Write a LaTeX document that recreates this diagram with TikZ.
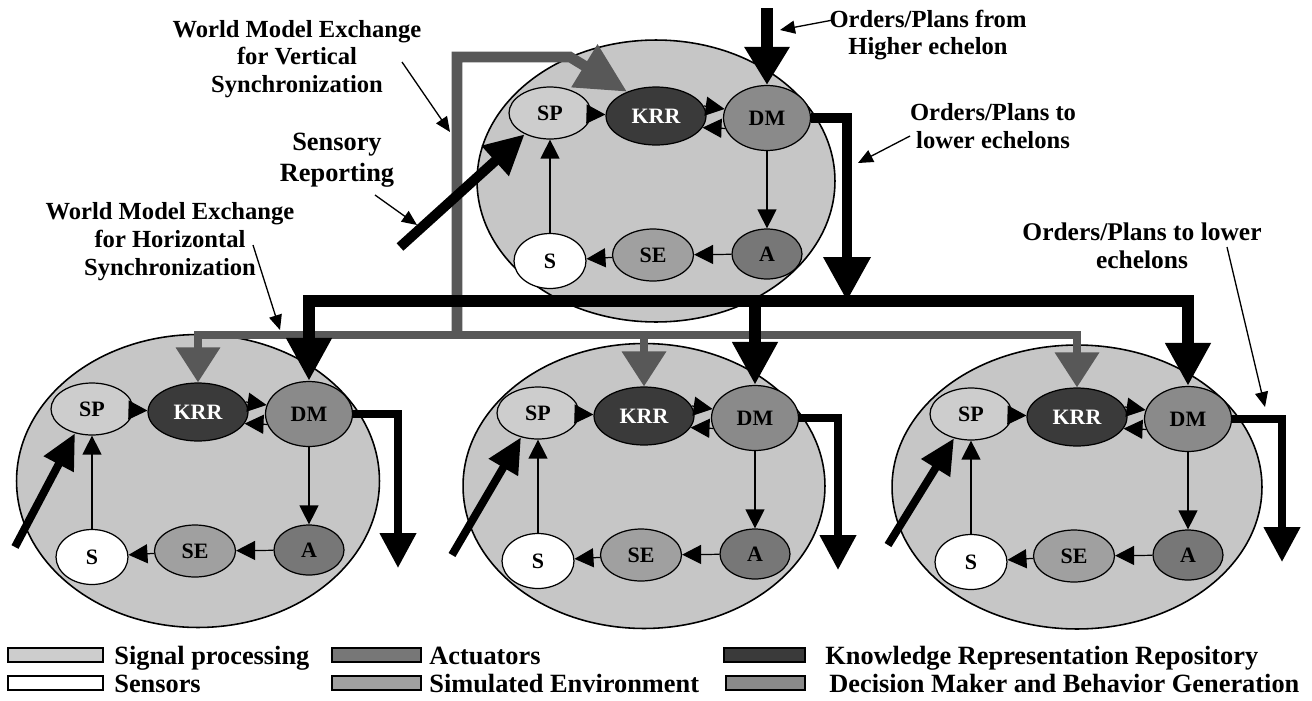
\documentclass[tikz,border=0pt]{standalone}
\usepackage{fontspec}
\setmainfont{Liberation Serif}
\usetikzlibrary{shapes.geometric,arrows.meta,calc}

\definecolor{bgell}{HTML}{C6C6C6}
\definecolor{spfill}{HTML}{CDCDCD}
\definecolor{krrfill}{HTML}{3A3A3A}
\definecolor{dmfill}{HTML}{8A8A8A}
\definecolor{afill}{HTML}{777777}
\definecolor{sefill}{HTML}{A0A0A0}
\definecolor{wmgray}{HTML}{585858}

\tikzset{
 bigell/.style={ellipse, draw=black, line width=0.9pt, fill=bgell, inner sep=0pt},
 innernd/.style={ellipse, draw=black, line width=0.7pt, inner sep=0pt, font=\bfseries\fontsize{12.5}{12.5}\selectfont},
 spnode/.style={innernd, fill=spfill, minimum width=1.64cm, minimum height=1.04cm},
 krrnode/.style={innernd, fill=krrfill, text=white, minimum width=2.0cm, minimum height=1.16cm},
 dmnode/.style={innernd, fill=dmfill, minimum width=1.74cm, minimum height=1.3cm},
 anode/.style={innernd, fill=afill, minimum width=1.4cm, minimum height=1.0cm},
 senode/.style={innernd, fill=sefill, minimum width=1.62cm, minimum height=1.04cm},
 snode/.style={innernd, fill=white, minimum width=1.44cm, minimum height=1.1cm},
 flow/.style={line width=0.7pt, -{Triangle[length=0.38cm,width=0.38cm]}},
 hiarrow/.style={line width=6.8pt, -{Triangle[length=0.76cm,width=0.86cm]}},
 topout/.style={line width=5.7pt, -{Triangle[length=0.88cm,width=0.9cm]}},
 busdrop/.style={line width=6.8pt, -{Triangle[length=0.86cm,width=0.86cm]}},
 unitout/.style={line width=4.3pt, -{Triangle[length=0.7cm,width=0.7cm]}},
 wmdrop/.style={draw=wmgray, line width=4pt, -{Triangle[length=0.7cm,width=0.86cm]}},
 wmvert/.style={draw=wmgray, line width=6pt, -{Triangle[length=1.0cm,width=0.95cm]}},
 sensortop/.style={line width=5.7pt, -{Triangle[length=0.8cm,width=0.76cm]}},
 sensorlow/.style={line width=4.5pt, -{Triangle[length=0.7cm,width=0.64cm]}},
 note/.style={line width=0.75pt, -{Triangle[length=0.3cm,width=0.26cm]}},
 lab/.style={align=center, inner sep=0pt, font=\bfseries\fontsize{14}{15.6}\selectfont},
 swatch/.style={draw=black, line width=0.8pt, minimum width=1.9cm, minimum height=0.28cm, inner sep=0pt},
 legtext/.style={anchor=base west, inner sep=0pt, font=\bfseries\fontsize{15}{15}\selectfont},
}

% #1 suffix, #2 x, #3 y, #4 width, #5 height, #6 ellipse y offset
\newcommand{\drawunit}[6]{%
 \begin{scope}[shift={(#2,#3)}]
  \node[bigell, minimum width=#4, minimum height=#5] (e#1) at (0,#6) {};
  \node[spnode] (sp#1) at (-106,-68) {SP};
  \node[krrnode] (krr#1) at (0,-65) {KRR};
  \node[dmnode] (dm#1) at (111,-63) {DM};
  \node[anode] (a#1) at (111,73) {A};
  \node[senode] (se#1) at (-3,74) {SE};
  \node[snode] (s#1) at (-106,80) {S};
 \end{scope}
 \draw[flow] (sp#1) -- (krr#1);
 \draw[flow] (krr#1.12) -- (dm#1.168);
 \draw[flow] (dm#1.194) -- (krr#1.-14);
 \draw[flow] (dm#1) -- (a#1);
 \draw[flow] (a#1) -- (se#1);
 \draw[flow] (se#1) -- (s#1);
 \draw[flow] (s#1) -- (sp#1);
}

\begin{document}
\begin{tikzpicture}[x=0.02cm, y=-0.02cm]
\fill[white] (0,0) rectangle (1312,700);
\useasboundingbox (0,0) rectangle (1312,700);

\drawunit{0}{656}{181}{7.16cm}{5.64cm}{0}
\drawunit{1}{198}{477}{7.26cm}{5.86cm}{4}
\drawunit{2}{644}{481}{7.24cm}{5.7cm}{5}
\drawunit{3}{1077}{482}{7.4cm}{5.68cm}{5}

% world model exchange (gray)
\coordinate (wmx) at (457,335);
\coordinate (wmtop) at (570,57);
\draw[wmdrop] (wmx) -| (krr1.north);
\draw[wmdrop] (wmx) -| (krr2.north);
\draw[wmdrop] (wmx) -| (krr3.north);
\draw[wmvert] (wmx) |- (wmtop) -- (krr0.140);

% orders / plans (black)
\coordinate (hitop) at (767,8);
\coordinate (bus) at (847,301);
\draw[hiarrow] (hitop) -- (dm0.north);
\draw[busdrop] (bus) -| (dm1.north);
\draw[busdrop] (bus) -| (dm2.north);
\draw[busdrop] (bus) -| (dm3.north);
\draw[topout] (dm0.east) -| (bus);

\coordinate (out1) at (398,568);
\coordinate (out2) at (838,570);
\coordinate (out3) at (1282,562);
\draw[unitout] (dm1.east) -| (out1);
\draw[unitout] (dm2.east) -| (out2);
\draw[unitout] (dm3.east) -| (out3);

% sensory reporting
\coordinate (sr0) at (400,247);
\coordinate (sr1) at (15,547);
\coordinate (sr2) at (452,555);
\coordinate (sr3) at (888,545);
\draw[sensortop] (sr0) -- (sp0.220);
\draw[sensorlow] (sr1) -- (sp1.235);
\draw[sensorlow] (sr2) -- (sp2.235);
\draw[sensorlow] (sr3) -- (sp3.235);

% labels
\node[lab] (vslab) at (297,59) {World Model Exchange\\for Vertical\\Synchronization};
\node[lab, font=\bfseries\fontsize{15}{17.5}\selectfont] (srlab) at (337,160) {Sensory\\Reporting};
\node[lab, font=\bfseries\fontsize{14}{15.9}\selectfont] (hslab) at (170,242) {World Model Exchange\\for Horizontal\\Synchronization};
\node[lab, font=\bfseries\fontsize{14}{15.3}\selectfont] (hilab) at (928,35) {Orders/Plans from\\Higher echelon};
\node[lab, font=\bfseries\fontsize{14}{15.9}\selectfont] (lolab) at (993,126) {Orders/Plans to\\lower echelons};
\node[lab, font=\bfseries\fontsize{14.5}{15.9}\selectfont] (lotwolab) at (1142,246) {Orders/Plans to lower\\echelons};

\coordinate (vsA) at (402,62);   \coordinate (vsB) at (450,132);
\coordinate (srA) at (375,195);  \coordinate (srB) at (417,225);
\coordinate (hsA) at (253,245);  \coordinate (hsB) at (280,330);
\coordinate (hiA) at (833,20);   \coordinate (hiB) at (780,30);
\coordinate (loA) at (910,136);  \coordinate (loB) at (858,163);
\coordinate (lotwoA) at (1227,247); \coordinate (lotwoB) at (1265,407);
\draw[note] (vsA) -- (vsB);
\draw[note] (srA) -- (srB);
\draw[note] (hsA) -- (hsB);
\draw[note] (hiA) -- (hiB);
\draw[note] (loA) -- (loB);
\draw[note] (lotwoA) -- (lotwoB);

% legend
\node[swatch, fill=spfill] (lgsp) at (55.5,655) {};
\node[legtext] (lgsptext) at (114,664) {Signal processing};
\node[swatch, fill=white] (lgs) at (55.5,683) {};
\node[legtext] (lgstext) at (114,692) {Sensors};
\node[swatch, fill=afill, minimum width=1.78cm] (lga) at (376.5,655) {};
\node[legtext] (lgatext) at (429,664) {Actuators};
\node[swatch, fill=sefill, minimum width=1.78cm] (lgse) at (376.5,683) {};
\node[legtext] (lgsetext) at (429,692) {Simulated Environment};
\node[swatch, fill=krrfill, minimum width=1.62cm] (lgkrr) at (764.5,655) {};
\node[legtext] (lgkrrtext) at (825,664) {Knowledge Representation Repository};
\node[swatch, fill=dmfill, minimum width=1.58cm] (lgdm) at (765.5,683) {};
\node[legtext] (lgdmtext) at (829,692) {Decision Maker and Behavior Generation};
\end{tikzpicture}
\end{document}
